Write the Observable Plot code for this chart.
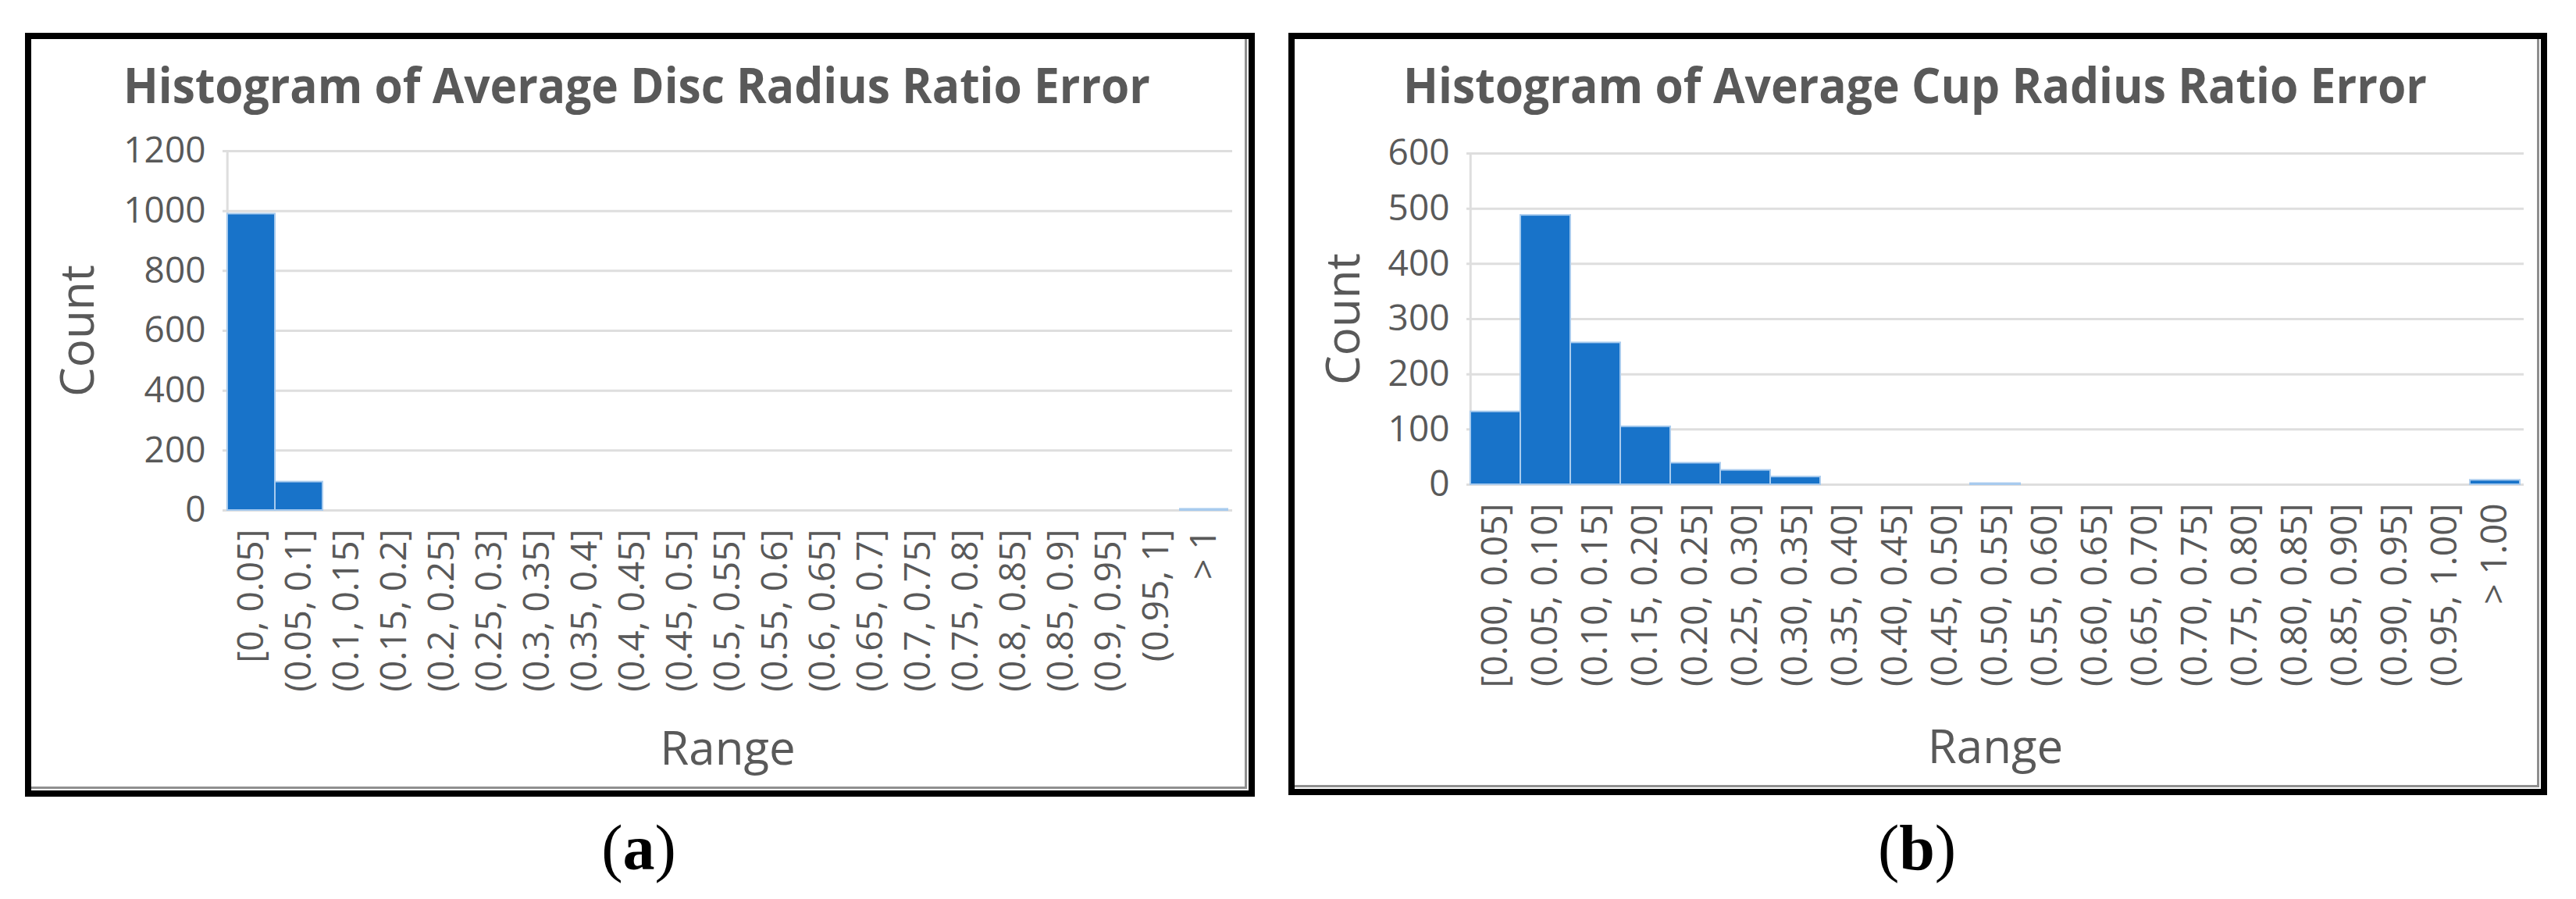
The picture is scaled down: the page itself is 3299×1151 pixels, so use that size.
<!DOCTYPE html>
<html>
<head>
<meta charset="utf-8">
<script src="https://cdn.jsdelivr.net/npm/d3@7"></script>
<script src="https://cdn.jsdelivr.net/npm/@observablehq/plot@0.6"></script>
<style>
  html, body { margin: 0; padding: 0; background: #fff; }
  #page { position: relative; width: 3299px; height: 1151px; overflow: hidden; background: #fff; }
  .frame { position: absolute; box-sizing: border-box; border: 8px solid #000;
           box-shadow: inset -2px -2px 0 #fff, inset -5px -5px 0 #8f8f8f; background: #fff; }
  .chart { position: absolute; }
  #overlay { position: absolute; left: 0; top: 0; }
</style>
</head>
<body>
<div id="page">
  <div class="frame" style="left:32px;top:42px;width:1575px;height:978px"></div>
  <div class="frame" style="left:1650px;top:42px;width:1612px;height:976px"></div>
  <svg id="overlay" width="3299" height="1151"></svg>
  <div id="chartA" class="chart" style="left:40px;top:150px"></div>
  <div id="chartB" class="chart" style="left:1660px;top:150px"></div>
</div>
<script>
// ---------------- data ----------------
const discTitle = "Histogram of Average Disc Radius Ratio Error";
const cupTitle = "Histogram of Average Cup Radius Ratio Error";

const discRanges = ["[0, 0.05]", "(0.05, 0.1]", "(0.1, 0.15]", "(0.15, 0.2]", "(0.2, 0.25]",
  "(0.25, 0.3]", "(0.3, 0.35]", "(0.35, 0.4]", "(0.4, 0.45]", "(0.45, 0.5]", "(0.5, 0.55]",
  "(0.55, 0.6]", "(0.6, 0.65]", "(0.65, 0.7]", "(0.7, 0.75]", "(0.75, 0.8]", "(0.8, 0.85]",
  "(0.85, 0.9]", "(0.9, 0.95]", "(0.95, 1]", "> 1"];
const discCounts = [990, 95, 0, 0, 0, 0, 0, 0, 0, 0, 0, 0, 0, 0, 0, 0, 0, 0, 0, 0, 4];
const discTicks = [0, 200, 400, 600, 800, 1000, 1200];

const cupRanges = ["[0.00, 0.05]", "(0.05, 0.10]", "(0.10, 0.15]", "(0.15, 0.20]", "(0.20, 0.25]",
  "(0.25, 0.30]", "(0.30, 0.35]", "(0.35, 0.40]", "(0.40, 0.45]", "(0.45, 0.50]", "(0.50, 0.55]",
  "(0.55, 0.60]", "(0.60, 0.65]", "(0.65, 0.70]", "(0.70, 0.75]", "(0.75, 0.80]", "(0.80, 0.85]",
  "(0.85, 0.90]", "(0.90, 0.95]", "(0.95, 1.00]", "> 1.00"];
const cupCounts = [132, 488, 257, 105, 39, 26, 14, 0, 0, 0, 2, 0, 0, 0, 0, 0, 0, 0, 0, 0, 8];
const cupTicks = [0, 100, 200, 300, 400, 500, 600];

const xLabel = "Range";
const yLabel = "Count";
const captions = ["a", "b"];

// ---------------- styles ----------------
const TEXT = "#595959";
const GRID = "#dedede";
const BAR = "#1873c9";
const BAR_EDGE = "#a8cbee";

function histogram(ranges, counts, ticks, o) {
  const data = ranges.map((r, i) => ({range: r, count: counts[i]}));
  const innerW = o.width - o.marginLeft - o.marginRight;
  const bw = innerW / ranges.length;
  return Plot.plot({
    width: o.width, height: o.height,
    marginLeft: o.marginLeft, marginRight: o.marginRight,
    marginTop: o.marginTop, marginBottom: o.marginBottom,
    style: {fontFamily: "'Open Sans', sans-serif", fontSize: "46px", color: TEXT,
            background: "transparent", overflow: "visible"},
    x: {domain: ranges, padding: 0, tickRotate: -90, tickSize: 0, tickPadding: 24, label: null},
    y: {domain: [ticks[0], ticks[ticks.length - 1]], ticks: ticks, tickFormat: d => String(d),
        tickSize: 0, tickPadding: 22, label: null},
    marks: [
      Plot.ruleY(ticks, {stroke: GRID, strokeWidth: 3}),
      Plot.ruleX([ranges[0]], {y1: ticks[0], y2: ticks[ticks.length - 1], dx: -bw / 2,
                               stroke: GRID, strokeWidth: 3}),
      Plot.barY(data.filter(d => d.count > 0), {x: "range", y: "count", fill: BAR,
                               stroke: BAR_EDGE, strokeWidth: 2}),
      Plot.text([yLabel], {text: d => d, frameAnchor: "left", rotate: -90, textAnchor: "middle",
                           lineAnchor: "middle", dx: o.countDx, fontSize: 60, fill: TEXT}),
      Plot.text([xLabel], {text: d => d, frameAnchor: "bottom", textAnchor: "middle",
                           lineAnchor: "middle", dy: o.rangeDy, fontSize: 60, fill: TEXT})
    ]
  });
}

document.getElementById("chartA").append(histogram(discRanges, discCounts, discTicks, {
  width: 1550, height: 860, marginLeft: 245, marginRight: 12, marginTop: 43, marginBottom: 357,
  countDx: -185, rangeDy: 306
}));
document.getElementById("chartB").append(histogram(cupRanges, cupCounts, cupTicks, {
  width: 1585, height: 860, marginLeft: 218, marginRight: 13, marginTop: 46, marginBottom: 390,
  countDx: -157, rangeDy: 337
}));

// ---------------- titles & captions ----------------
const ov = d3.select("#overlay");
[[discTitle, 158, 1315], [cupTitle, 1797, 1311]].forEach(([t, x, len]) => {
  ov.append("text").attr("x", x).attr("y", 132)
    .attr("font-family", "'Open Sans', sans-serif").attr("font-weight", 700)
    .attr("font-size", 63).attr("fill", TEXT)
    .attr("textLength", len).attr("lengthAdjust", "spacingAndGlyphs").text(t);
});
[[captions[0], 818], [captions[1], 2455]].forEach(([c, x]) => {
  const t = ov.append("text").attr("x", x).attr("y", 1113).attr("text-anchor", "middle")
    .attr("font-family", "'Liberation Serif', serif").attr("font-size", 82).attr("fill", "#000");
  t.append("tspan").text("(");
  t.append("tspan").attr("font-weight", 700).text(c);
  t.append("tspan").text(")");
});
</script>
</body>
</html>
